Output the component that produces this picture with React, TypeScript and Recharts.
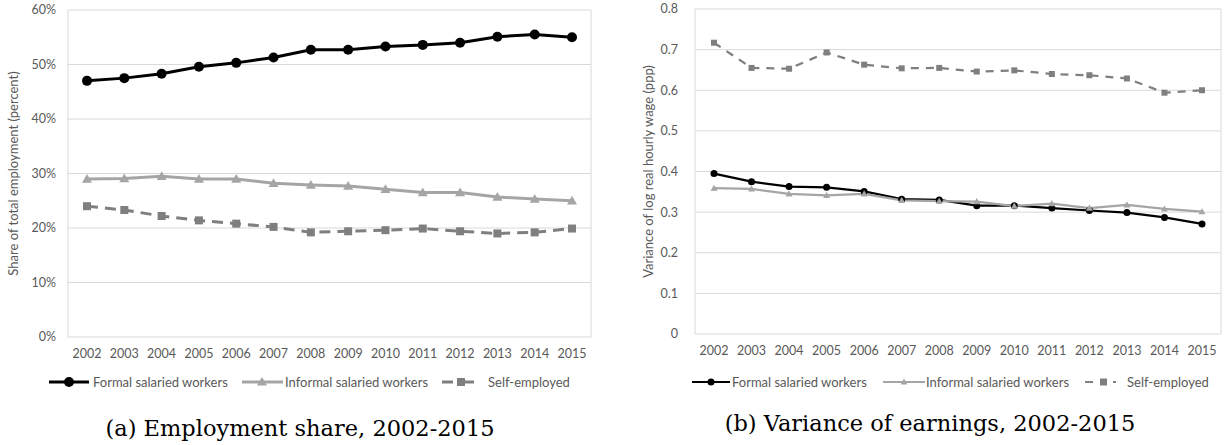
import React from "react";
import { LineChart, Line, XAxis, YAxis, CartesianGrid } from "recharts";

// years on both charts
const years = ["2002", "2003", "2004", "2005", "2006", "2007", "2008", "2009", "2010", "2011", "2012", "2013", "2014", "2015"];

// (a) share of total employment, percent
const formalShare = [47.0, 47.5, 48.3, 49.6, 50.3, 51.3, 52.7, 52.7, 53.3, 53.6, 54.0, 55.1, 55.5, 55.0];
const informalShare = [29.0, 29.1, 29.5, 29.0, 29.0, 28.2, 27.9, 27.7, 27.1, 26.5, 26.5, 25.7, 25.3, 25.0];
const selfShare = [24.0, 23.3, 22.2, 21.4, 20.8, 20.2, 19.2, 19.4, 19.6, 19.9, 19.4, 19.0, 19.2, 19.9];
const shareTicks = [0, 10, 20, 30, 40, 50, 60];

// (b) variance of log real hourly wage (ppp)
const formalVar = [0.395, 0.375, 0.363, 0.361, 0.351, 0.332, 0.330, 0.316, 0.316, 0.310, 0.304, 0.299, 0.287, 0.271];
const informalVar = [0.359, 0.357, 0.345, 0.341, 0.345, 0.329, 0.327, 0.326, 0.315, 0.321, 0.310, 0.318, 0.308, 0.301];
const selfVar = [0.717, 0.655, 0.653, 0.693, 0.663, 0.654, 0.655, 0.646, 0.649, 0.640, 0.637, 0.629, 0.594, 0.600];
const varTicks = [0, 0.1, 0.2, 0.3, 0.4, 0.5, 0.6, 0.7, 0.8];

const shareData = years.map((year, i) => ({
  year,
  formal: formalShare[i],
  informal: informalShare[i],
  self: selfShare[i],
}));

const varData = years.map((year, i) => ({
  year,
  formal: formalVar[i],
  informal: informalVar[i],
  self: selfVar[i],
}));

const BLACK = "#000000";
const LIGHT = "#a5a5a5";
const DARK = "#7f7f7f";
const TEXT = "#595959";
const GRID = "#d9d9d9";
const FONT = "Lato, 'Liberation Sans', sans-serif";

function circleDot(r: number, fill: string) {
  return (props: any) => {
    const { cx, cy, index } = props;
    if (cx == null || cy == null) return <g key={`c${index}`} />;
    return <circle key={`c${index}`} cx={cx} cy={cy} r={r} fill={fill} stroke="none" />;
  };
}

function triangleDot(s: number, fill: string) {
  return (props: any) => {
    const { cx, cy, index } = props;
    if (cx == null || cy == null) return <g key={`t${index}`} />;
    return (
      <path
        key={`t${index}`}
        d={`M${cx},${cy - s} L${cx + s},${cy + s * 0.75} L${cx - s},${cy + s * 0.75} Z`}
        fill={fill}
      />
    );
  };
}

function squareDot(s: number, fill: string) {
  return (props: any) => {
    const { cx, cy, index } = props;
    if (cx == null || cy == null) return <g key={`s${index}`} />;
    return <rect key={`s${index}`} x={cx - s / 2} y={cy - s / 2} width={s} height={s} fill={fill} />;
  };
}

// only the two outer edges of the plot get a vertical line (plot border)
const edgeLines = ({ offset }: any) => [offset.left, offset.left + offset.width];

const tickStyle = { fill: TEXT, fontSize: 12.5, fontFamily: FONT };

type LegendItem = { x: number; label: string; icon: React.ReactNode };

function LegendRow({ y, items }: { y: number; items: LegendItem[] }) {
  return (
    <>
      {items.map((it) => (
        <div
          key={it.label}
          style={{
            position: "absolute",
            left: it.x,
            top: y - 9,
            height: 18,
            display: "flex",
            alignItems: "center",
            fontFamily: FONT,
            fontSize: 13,
            color: TEXT,
            whiteSpace: "nowrap",
          }}
        >
          {it.icon}
          <span>{it.label}</span>
        </div>
      ))}
    </>
  );
}

function Caption({ x, y, text }: { x: number; y: number; text: string }) {
  return (
    <div
      style={{
        position: "absolute",
        left: x - 300,
        width: 600,
        top: y - 15,
        height: 30,
        lineHeight: "30px",
        textAlign: "center",
        fontFamily: "'DejaVu Serif', serif",
        fontSize: 22.5,
        color: "#000",
      }}
    >
      {text}
    </div>
  );
}

export default function App() {
  const leftLegend: LegendItem[] = [
    {
      x: 49,
      label: "Formal salaried workers",
      icon: (
        <svg width={44} height={12}>
          <line x1={0} y1={6} x2={40} y2={6} stroke={BLACK} strokeWidth={3} />
          <circle cx={20} cy={6} r={5} fill={BLACK} />
        </svg>
      ),
    },
    {
      x: 242,
      label: "Informal salaried workers",
      icon: (
        <svg width={43} height={12}>
          <line x1={0} y1={6} x2={41} y2={6} stroke={LIGHT} strokeWidth={3} />
          <path d="M20,1 L25,9.5 L15,9.5 Z" fill={LIGHT} />
        </svg>
      ),
    },
    {
      x: 442,
      label: "Self-employed",
      icon: (
        <svg width={46} height={12}>
          <line x1={0} y1={6} x2={11} y2={6} stroke={DARK} strokeWidth={3} />
          <rect x={15} y={2} width={8} height={8} fill={DARK} />
          <line x1={22} y1={6} x2={32} y2={6} stroke={DARK} strokeWidth={3} />
        </svg>
      ),
    },
  ];

  const rightLegend: LegendItem[] = [
    {
      x: 692,
      label: "Formal salaried workers",
      icon: (
        <svg width={40} height={12}>
          <line x1={0} y1={6} x2={38} y2={6} stroke={BLACK} strokeWidth={2} />
          <circle cx={19} cy={6} r={3.5} fill={BLACK} />
        </svg>
      ),
    },
    {
      x: 883,
      label: "Informal salaried workers",
      icon: (
        <svg width={43} height={12}>
          <line x1={0} y1={6} x2={42} y2={6} stroke={LIGHT} strokeWidth={2} />
          <path d="M21,2.5 L24.5,8.5 L17.5,8.5 Z" fill={LIGHT} />
        </svg>
      ),
    },
    {
      x: 1085,
      label: "Self-employed",
      icon: (
        <svg width={42} height={12}>
          <line x1={0} y1={6} x2={8} y2={6} stroke={DARK} strokeWidth={2} />
          <rect x={15} y={2.5} width={7} height={7} fill={DARK} />
          <line x1={28} y1={6} x2={31} y2={6} stroke={DARK} strokeWidth={2} />
        </svg>
      ),
    },
  ];

  return (
    <div
      style={{
        position: "absolute",
        left: 0,
        top: 0,
        width: 1228,
        height: 445,
        background: "#ffffff",
        overflow: "hidden",
      }}
    >
      {/* (a) Employment share */}
      <div style={{ position: "absolute", left: 0, top: 0 }}>
        <LineChart width={600} height={370} data={shareData} margin={{ top: 10, right: 9, left: 8, bottom: 0 }}>
          <CartesianGrid stroke={GRID} strokeWidth={1} verticalCoordinatesGenerator={edgeLines} />
          <XAxis
            dataKey="year"
            axisLine={false}
            tickLine={false}
            tickSize={0}
            tickMargin={12}
            height={33}
            interval={0}
            padding={{ left: 19, right: 19 }}
            tick={tickStyle}
          />
          <YAxis
            domain={[0, 60]}
            ticks={shareTicks}
            tickFormatter={(v) => `${v}%`}
            axisLine={false}
            tickLine={false}
            tickSize={0}
            tickMargin={12}
            width={60}
            tick={tickStyle}
            label={{
              value: "Share of total employment (percent)",
              angle: -90,
              position: "insideLeft",
              offset: 5,
              style: { textAnchor: "middle", fill: TEXT, fontSize: 13, fontFamily: FONT },
            }}
          />
          <Line
            dataKey="formal"
            stroke={BLACK}
            strokeWidth={3}
            dot={circleDot(5, BLACK)}
            activeDot={false}
            isAnimationActive={false}
          />
          <Line
            dataKey="informal"
            stroke={LIGHT}
            strokeWidth={3}
            dot={triangleDot(5, LIGHT)}
            activeDot={false}
            isAnimationActive={false}
          />
          <Line
            dataKey="self"
            stroke={DARK}
            strokeWidth={3}
            strokeDasharray="11 7"
            dot={squareDot(8, DARK)}
            activeDot={false}
            isAnimationActive={false}
          />
        </LineChart>
      </div>

      {/* (b) Variance of earnings */}
      <div style={{ position: "absolute", left: 620, top: 0 }}>
        <LineChart width={608} height={367} data={varData} margin={{ top: 9, right: 7, left: 15, bottom: 0 }}>
          <CartesianGrid stroke={GRID} strokeWidth={1} verticalCoordinatesGenerator={edgeLines} />
          <XAxis
            dataKey="year"
            axisLine={false}
            tickLine={false}
            tickSize={0}
            tickMargin={12}
            height={33}
            interval={0}
            padding={{ left: 19, right: 19 }}
            tick={tickStyle}
          />
          <YAxis
            domain={[0, 0.8]}
            ticks={varTicks}
            tickFormatter={(v) => `${Math.round(v * 10) / 10}`}
            axisLine={false}
            tickLine={false}
            tickSize={0}
            tickMargin={17}
            width={60}
            tick={tickStyle}
            label={{
              value: "Variance of log real hourly wage (ppp)",
              angle: -90,
              position: "insideLeft",
              offset: 13,
              style: { textAnchor: "middle", fill: TEXT, fontSize: 13, fontFamily: FONT },
            }}
          />
          <Line
            dataKey="formal"
            stroke={BLACK}
            strokeWidth={2.25}
            dot={circleDot(3.5, BLACK)}
            activeDot={false}
            isAnimationActive={false}
          />
          <Line
            dataKey="informal"
            stroke={LIGHT}
            strokeWidth={2.25}
            dot={triangleDot(3.5, LIGHT)}
            activeDot={false}
            isAnimationActive={false}
          />
          <Line
            dataKey="self"
            stroke={DARK}
            strokeWidth={2.25}
            strokeDasharray="8 7"
            dot={squareDot(6, DARK)}
            activeDot={false}
            isAnimationActive={false}
          />
        </LineChart>
      </div>

      <LegendRow y={382} items={leftLegend} />
      <LegendRow y={382} items={rightLegend} />

      <Caption x={300} y={428} text="(a) Employment share, 2002-2015" />
      <Caption x={930} y={423} text="(b) Variance of earnings, 2002-2015" />
    </div>
  );
}
